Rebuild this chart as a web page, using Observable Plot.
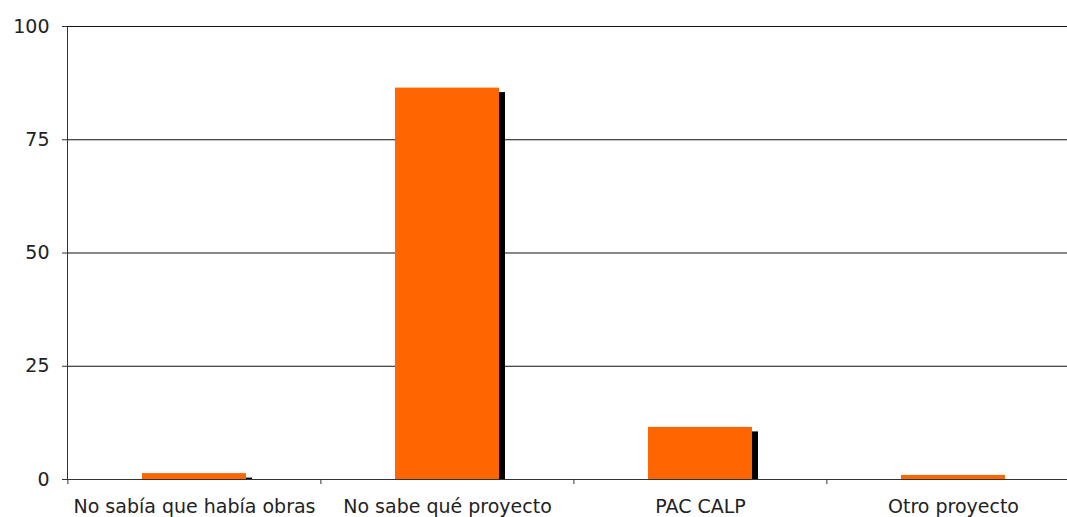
<!DOCTYPE html>
<html>
<head>
<meta charset="utf-8">
<script src="https://cdn.jsdelivr.net/npm/d3@7"></script>
<script src="https://cdn.jsdelivr.net/npm/@observablehq/plot@0.6"></script>
<style>
  html, body { margin: 0; padding: 0; background: #fff; }
  #chart svg { display: block; }
</style>
</head>
<body>
<div id="chart"></div>
<script>
const categories = ["No sabía que había obras", "No sabe qué proyecto", "PAC CALP", "Otro proyecto"];
const values = [1.3, 86.4, 11.5, 0.9];
const yTicks = [0, 25, 50, 75, 100];
const gridTicks = [25, 50, 75, 100];

const data = categories.map((c, i) => ({category: c, value: values[i]}));

const W = 1067, H = 517;
const xRange = [67, 1080];
const step = (xRange[1] - xRange[0]) / categories.length;

const chart = Plot.plot({
  width: W,
  height: H,
  marginLeft: 67,
  marginRight: 0,
  marginTop: 26,
  marginBottom: 38,
  style: {fontFamily: "'DejaVu Sans', sans-serif", fontSize: "19px", color: "#222", background: "#fff", overflow: "visible"},
  x: {type: "band", domain: categories, range: xRange, paddingInner: 0.589, paddingOuter: 0.2945, align: 0.5},
  y: {domain: [0, 100]},
  marks: [
    Plot.ruleY(gridTicks, {stroke: "#111", strokeWidth: 1, strokeOpacity: 1}),
    Plot.barY(data, {x: "category", y: "value", fill: "#000", dx: 6, insetTop: 4.5}),
    Plot.barY(data, {x: "category", y: "value", fill: "#FF6600"}),
    Plot.ruleY([0], {stroke: "#333", strokeWidth: 1}),
    Plot.frame({anchor: "left", stroke: "#333", strokeWidth: 1}),
    Plot.ruleX(categories, {x: d => d, dx: -step / 2, y1: 0, y2: 0, insetBottom: -5, stroke: "#333"}),
    Plot.axisY({ticks: yTicks, tickSize: 5, tickPadding: 13, tickFormat: d => String(d), label: null, fontSize: 19, stroke: "#333", fill: "#222"}),
    Plot.axisX({tickSize: 0, tickPadding: 20, label: null, fontSize: 19, fill: "#222"})
  ]
});

document.getElementById("chart").appendChild(chart);
</script>
</body>
</html>
